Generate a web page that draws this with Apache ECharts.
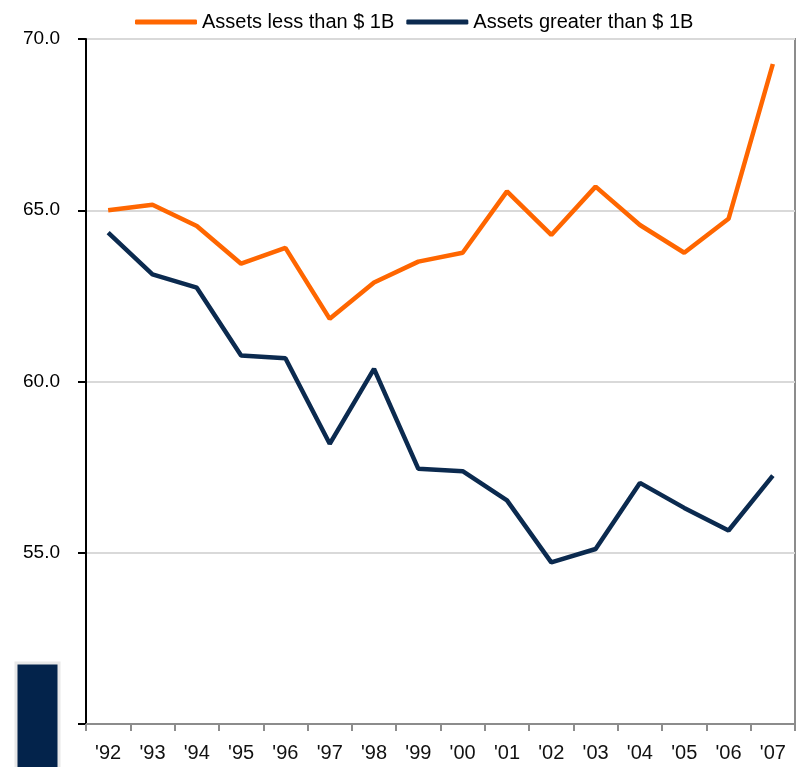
<!DOCTYPE html>
<html>
<head>
<meta charset="utf-8">
<script src="https://cdn.jsdelivr.net/npm/echarts@6/dist/echarts.min.js"></script>
<style>
  html, body { margin: 0; padding: 0; background: #fff; }
  #chart { width: 804px; height: 767px; }
</style>
</head>
<body>
<div id="chart"></div>
<script>
// Fiscal years on the category axis
const years = ["'92", "'93", "'94", "'95", "'96", "'97", "'98", "'99", "'00", "'01", "'02", "'03", "'04", "'05", "'06", "'07"];

// Series values by year
const smallAssets = [65.0, 65.16, 64.54, 63.44, 63.9, 61.83, 62.89, 63.5, 63.76, 65.55, 64.28, 65.69, 64.57, 63.76, 64.75, 69.27];
const largeAssets = [64.35, 63.13, 62.74, 60.76, 60.68, 58.18, 60.37, 57.45, 57.38, 56.53, 54.72, 55.11, 57.04, 56.31, 55.65, 57.25];

const seriesNames = ['Assets less than $ 1B', 'Assets greater than $ 1B'];
const seriesColors = ['#ff6600', '#0b2a4f'];

const chart = echarts.init(document.getElementById('chart'), null, { renderer: 'canvas' });

const font = '"Liberation Sans", Arial, sans-serif';

chart.setOption({
  animation: false,
  backgroundColor: '#ffffff',
  legend: {
    top: 7,
    left: 130,
    itemWidth: 62,
    itemHeight: 5,
    itemGap: 12,
    icon: 'roundRect',
    textStyle: { fontFamily: font, fontSize: 20, color: '#000' },
    data: seriesNames
  },
  grid: {
    left: 86, right: 9, top: 39, bottom: 43,
    show: true,
    borderColor: '#8c8c8c',
    borderWidth: 2
  },
  xAxis: {
    type: 'category',
    data: years,
    boundaryGap: true,
    axisLine: { lineStyle: { color: '#8c8c8c', width: 2 } },
    axisTick: { show: true, length: 7, lineStyle: { color: '#8c8c8c', width: 2 } },
    axisLabel: { fontFamily: font, fontSize: 20, color: '#111', margin: 19 }
  },
  yAxis: {
    type: 'value',
    min: 50, max: 70, interval: 5,
    axisLine: { show: true, lineStyle: { color: '#000', width: 2 } },
    axisTick: { show: true, length: 8, lineStyle: { color: '#000', width: 2 } },
    axisLabel: {
      fontFamily: font, fontSize: 19, color: '#000', margin: 26,
      formatter: v => (v === 50 ? '' : v.toFixed(1))
    },
    splitLine: { show: true, lineStyle: { color: '#d9d9d9', width: 2 } }
  },
  series: [
    {
      name: seriesNames[0], type: 'line', data: smallAssets,
      symbol: 'none', color: seriesColors[0],
      lineStyle: { width: 4.5, color: seriesColors[0] }
    },
    {
      name: seriesNames[1], type: 'line', data: largeAssets,
      symbol: 'none', color: seriesColors[1],
      lineStyle: { width: 4.5, color: seriesColors[1] }
    }
  ],
  graphic: [
    {
      type: 'rect',
      shape: { x: 16, y: 663, width: 43, height: 110 },
      style: { fill: '#03234b', stroke: '#e8e8e8', lineWidth: 3 }
    }
  ]
});
</script>
</body>
</html>
